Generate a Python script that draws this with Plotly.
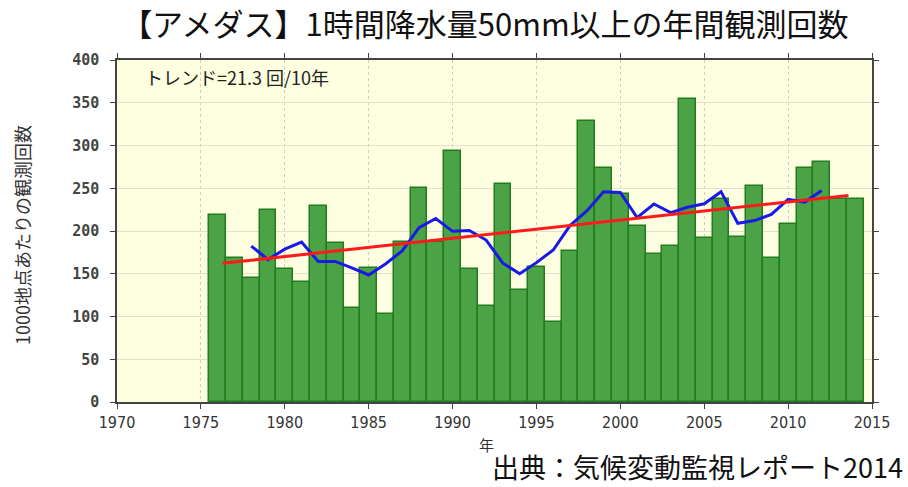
import numpy as np
import pandas as pd
import plotly.graph_objects as go

# ---- data ----
years = list(range(1976, 2015))
counts = [219, 168, 145, 224, 156, 140, 229, 186, 110, 157,
          103, 187, 250, 187, 293, 156, 112, 255, 131, 158,
          94, 177, 329, 274, 243, 206, 173, 182, 354, 192,
          238, 193, 253, 169, 208, 274, 281, 237, 237]
x_ticks = list(range(1970, 2016, 5))
y_ticks = list(range(0, 401, 50))
trend_span = [1976.3, 2013.6]          # extent of the drawn trend line
title_text = "【アメダス】1時間降水量50mm以上の年間観測回数"
trend_label = "トレンド=21.3 回/10年"
y_title = "1000地点あたりの観測回数"
x_title = "年"
source_text = "出典：気候変動監視レポート2014"

# 5-year running mean (blue) and linear trend (red)
running = pd.Series(counts, index=years).rolling(5, center=True).mean().dropna()
slope, intercept = np.polyfit(years, counts, 1)
trend_vals = [slope * t + intercept for t in trend_span]

CJK = "Noto Sans CJK JP"
fig = go.Figure()
fig.add_trace(go.Bar(
    x=years, y=counts, width=1.0,
    marker=dict(color="#4ba345", line=dict(color="#1f7d1f", width=1.5)),
    hoverinfo="x+y", showlegend=False))
fig.add_trace(go.Scatter(
    x=list(running.index), y=list(running.values), mode="lines",
    line=dict(color="#1a1ae6", width=3), showlegend=False))
fig.add_trace(go.Scatter(
    x=trend_span, y=trend_vals, mode="lines",
    line=dict(color="#ff1a1a", width=3), showlegend=False))

axis_common = dict(
    showline=True, linecolor="#444", linewidth=1.5, mirror="ticks",
    ticks="outside", ticklen=5, tickcolor="#444", tickwidth=1.2,
    zeroline=False, showgrid=True)

fig.update_layout(
    width=908, height=487,
    paper_bgcolor="white", plot_bgcolor="#fefee0",
    margin=dict(l=117, r=36, t=60, b=85),
    bargap=0,
    title=dict(text=title_text, x=0.534, xanchor="center", y=0.949, yanchor="middle",
               font=dict(family=CJK, size=31, color="#111")),
    xaxis=dict(range=[1970, 2015], tickvals=x_ticks, ticktext=[str(v) for v in x_ticks],
               gridcolor="#cfcfc0", griddash="dot", gridwidth=1,
               tickfont=dict(family="Liberation Sans Narrow, DejaVu Sans Condensed, Roboto Condensed, sans-serif",
                             size=16, color="#333"),
               **axis_common),
    yaxis=dict(range=[0, 400], tickvals=y_ticks, ticktext=[str(v) for v in y_ticks],
               gridcolor="#e2e2cc", gridwidth=1, ticklabelstandoff=8,
               tickfont=dict(family="DejaVu Sans Mono", size=15, color="#444", weight="bold"),
               **axis_common),
    annotations=[
        dict(text=trend_label, xref="paper", yref="paper", x=0.034, y=0.949,
             xanchor="left", yanchor="middle", showarrow=False,
             font=dict(family=CJK, size=18, color="#222")),
        dict(text=y_title, xref="paper", yref="paper", x=-0.126, y=0.488,
             xanchor="center", yanchor="middle", textangle=-90, showarrow=False,
             font=dict(family=CJK, size=18, color="#333")),
        dict(text=x_title, xref="paper", yref="paper", x=0.489, y=-0.125,
             xanchor="center", yanchor="middle", showarrow=False,
             font=dict(family=CJK, size=15, color="#333")),
        dict(text=source_text, xref="paper", yref="paper", x=1.0437, y=-0.188,
             xanchor="right", yanchor="middle", showarrow=False,
             font=dict(family=CJK, size=27, color="#111")),
    ],
)

fig.write_html("out.html", config={"displayModeBar": False},
               post_script="document.body.style.margin='0';")
